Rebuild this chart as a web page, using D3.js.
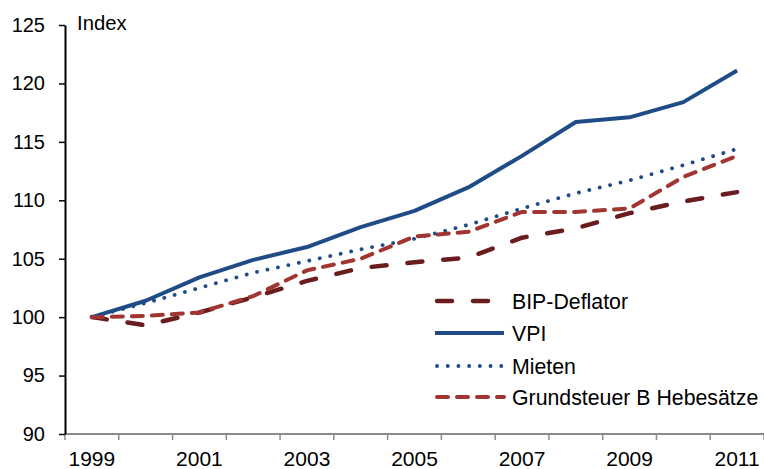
<!DOCTYPE html>
<html>
<head>
<meta charset="utf-8">
<script src="https://cdn.jsdelivr.net/npm/d3@7"></script>
<style>
  html, body { margin: 0; padding: 0; background: #fff; }
  svg { display: block; font-family: "Liberation Sans", Arial, sans-serif; }
</style>
</head>
<body>
<svg id="chart" width="764" height="469"></svg>
<script>
// Years on the x axis and index values (1999 = 100)
const years = [1999, 2000, 2001, 2002, 2003, 2004, 2005, 2006, 2007, 2008, 2009, 2010, 2011];
const bipDeflator = [100, 99.3, 100.4, 101.7, 103.1, 104.2, 104.7, 105.1, 106.8, 107.6, 108.9, 109.9, 110.7];
const vpi = [100, 101.4, 103.4, 104.9, 106.0, 107.7, 109.1, 111.1, 113.8, 116.7, 117.1, 118.4, 121.1];
const mieten = [100, 101.2, 102.5, 103.8, 104.8, 105.8, 106.7, 107.9, 109.3, 110.6, 111.7, 113.0, 114.4];
const grundsteuer = [100, 100.1, 100.4, 101.8, 104.0, 105.0, 106.9, 107.3, 109.0, 109.0, 109.3, 112.0, 113.8];
const yTicks = [90, 95, 100, 105, 110, 115, 120, 125];
const xLabelYears = [1999, 2001, 2003, 2005, 2007, 2009, 2011];

const series = [
  { name: "BIP-Deflator", values: bipDeflator, color: "#6a1d1f", width: 4.5, dash: "15 21", cap: "round" },
  { name: "VPI", values: vpi, color: "#1f4c86", width: 4, dash: null, cap: "butt" },
  { name: "Mieten", values: mieten, color: "#1f4c86", width: 3.8, dash: "0.1 10.6", cap: "round" },
  { name: "Grundsteuer B Hebesätze", values: grundsteuer, color: "#a03532", width: 4, dash: "11 9", cap: "round" }
];

const svg = d3.select("#chart");
const plotLeft = 65, plotRight = 764, plotTop = 25, plotBottom = 434;

const x = d3.scaleBand().domain(years).range([plotLeft, plotRight]).padding(0);
const y = d3.scaleLinear().domain([90, 125]).range([plotBottom, plotTop]);
const cx = d => x(d) + x.bandwidth() / 2;

// x axis: grey baseline with ticks on the category boundaries
const xAxis = svg.append("g");
xAxis.append("line")
  .attr("x1", plotLeft).attr("x2", plotRight)
  .attr("y1", plotBottom).attr("y2", plotBottom)
  .attr("stroke", "#8c8c8c").attr("stroke-width", 2);
xAxis.selectAll("line.tick")
  .data(years.map(yr => x(yr)).concat([plotRight]))
  .join("line")
  .attr("class", "tick")
  .attr("x1", d => d).attr("x2", d => d)
  .attr("y1", plotBottom).attr("y2", plotBottom + 6)
  .attr("stroke", "#8c8c8c").attr("stroke-width", 1.5);
xAxis.selectAll("text")
  .data(xLabelYears)
  .join("text")
  .attr("x", d => cx(d))
  .attr("y", 466)
  .attr("text-anchor", "middle")
  .attr("font-size", 21)
  .attr("fill", "#000")
  .text(d => d);

// y axis
const yAxis = svg.append("g")
  .attr("transform", `translate(${plotLeft},0)`)
  .call(d3.axisLeft(y).tickValues(yTicks).tickSize(6).tickPadding(14).tickSizeOuter(0));
yAxis.select(".domain").attr("stroke", "#000").attr("stroke-width", 2);
yAxis.selectAll(".tick line").attr("stroke", "#000").attr("stroke-width", 1.5);
yAxis.selectAll(".tick text")
  .attr("font-size", 20)
  .attr("font-family", "Liberation Sans, Arial, sans-serif")
  .attr("fill", "#000");

svg.append("text")
  .attr("x", 77).attr("y", 30)
  .attr("font-size", 20.3)
  .attr("fill", "#000")
  .text("Index");

// series lines
const line = d3.line()
  .x((d, i) => cx(years[i]))
  .y(d => y(d));

series.forEach(s => {
  svg.append("path")
    .datum(s.values)
    .attr("d", line)
    .attr("fill", "none")
    .attr("stroke", s.color)
    .attr("stroke-width", s.width)
    .attr("stroke-linecap", s.cap)
    .attr("stroke-linejoin", "round")
    .attr("stroke-dasharray", s.dash);
});

// legend
const legend = svg.append("g");
const legendY = [301, 333, 366, 397];
series.forEach((s, i) => {
  legend.append("line")
    .attr("x1", s.cap === "round" ? 437 : 435)
    .attr("x2", 504)
    .attr("y1", legendY[i]).attr("y2", legendY[i])
    .attr("stroke", s.color)
    .attr("stroke-width", s.width)
    .attr("stroke-linecap", s.cap)
    .attr("stroke-dasharray", s.dash);
  legend.append("text")
    .attr("x", 512)
    .attr("y", legendY[i] + 7.5)
    .attr("font-size", 21.3)
    .attr("fill", "#000")
    .text(s.name);
});
</script>
</body>
</html>
